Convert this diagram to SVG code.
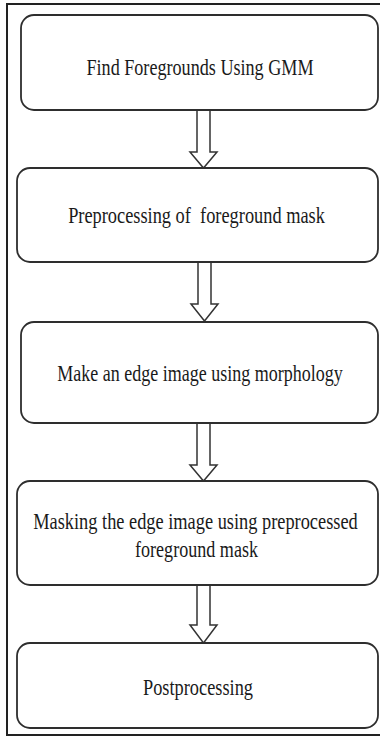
<svg xmlns="http://www.w3.org/2000/svg" width="380" height="737" viewBox="0 0 380 737">
  <style>
    .frame { fill: #ffffff; stroke: #222222; stroke-width: 2; }
    .box { fill: #ffffff; stroke: #2e2e2e; stroke-width: 1.8; }
    .label { font-family: "Liberation Serif", "Times New Roman", serif; font-size: 22.5px; fill: #1a1a1a; text-anchor: middle; }
    .arrow { fill: #ffffff; stroke: #333333; stroke-width: 1.5; stroke-linejoin: miter; }
  </style>

  <!-- outer frame -->
  <rect class="frame" x="7" y="4" width="385" height="731"/>

  <!-- hollow block arrows between steps -->
  <g id="connectors">
    <path class="arrow" d="M197 110 L210 110 L210 152 L217 152 L203.5 168 L190 152 L197 152 Z"/>
    <path class="arrow" d="M198 262 L211 262 L211 304 L218 304 L204.5 321 L191 304 L198 304 Z"/>
    <path class="arrow" d="M197 423 L210 423 L210 465 L217 465 L203.5 481 L190 465 L197 465 Z"/>
    <path class="arrow" d="M197 585 L210 585 L210 625 L217 625 L203.5 643 L190 625 L197 625 Z"/>
  </g>

  <g id="step-gmm">
    <rect class="box" x="21" y="15" width="357" height="95" rx="13"/>
    <text class="label" transform="translate(200 74.5) scale(0.806 1)">Find Foregrounds Using GMM</text>
  </g>

  <g id="step-preprocess">
    <rect class="box" x="17" y="168" width="361" height="94" rx="13"/>
    <text class="label" xml:space="preserve" transform="translate(196.5 223) scale(0.816 1)">Preprocessing of  foreground mask</text>
  </g>

  <g id="step-edge">
    <rect class="box" x="21" y="322" width="357" height="101" rx="13"/>
    <text class="label" transform="translate(200 381) scale(0.801 1)">Make an edge image using morphology</text>
  </g>

  <g id="step-masking">
    <rect class="box" x="17" y="481" width="361" height="104" rx="13"/>
    <text class="label" transform="translate(195.5 529) scale(0.816 1)">Masking the edge image using preprocessed</text>
    <text class="label" transform="translate(196.5 557) scale(0.804 1)">foreground mask</text>
  </g>

  <g id="step-postprocess">
    <rect class="box" x="17" y="643" width="361" height="85" rx="13"/>
    <text class="label" transform="translate(198 695) scale(0.815 1)">Postprocessing</text>
  </g>
</svg>
